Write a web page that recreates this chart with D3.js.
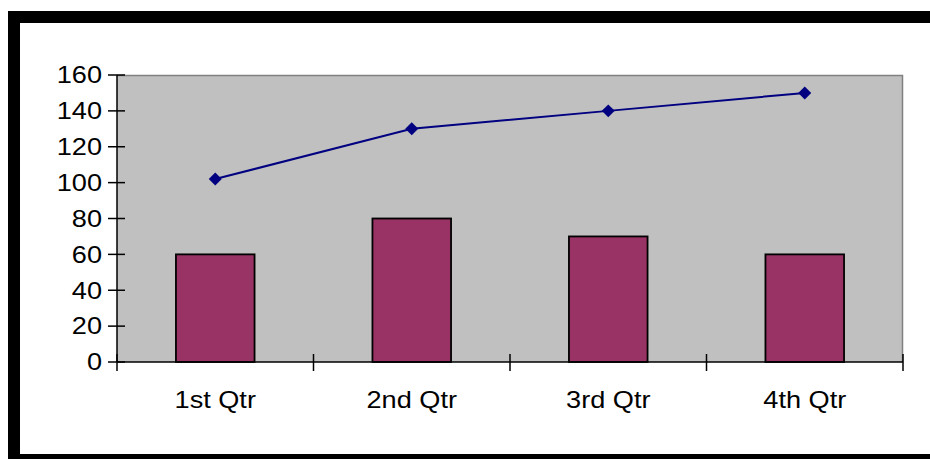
<!DOCTYPE html>
<html>
<head>
<meta charset="utf-8">
<script src="https://cdn.jsdelivr.net/npm/d3@7"></script>
<style>
  html, body { margin: 0; padding: 0; background: #ffffff; }
  svg { display: block; }
  text { font-family: "Liberation Sans", Arial, sans-serif; fill: #000; }
</style>
</head>
<body>
<svg id="chart" width="930" height="459"></svg>
<script>
const categories = ["1st Qtr", "2nd Qtr", "3rd Qtr", "4th Qtr"];
const barValues = [60, 80, 70, 60];
const lineValues = [102, 130, 140, 150];
const yTicks = [0, 20, 40, 60, 80, 100, 120, 140, 160];

const svg = d3.select("#chart");
const plot = { left: 117, right: 903, top: 75, bottom: 362 };
const fontSize = 23;
const stretch = 1.18;

// outer thick frame
svg.append("rect")
  .attr("x", 14).attr("y", 17)
  .attr("width", 940).attr("height", 443)
  .attr("fill", "#ffffff")
  .attr("stroke", "#000").attr("stroke-width", 12);

const xCat = d3.scaleBand().domain(categories).range([plot.left, plot.right]).padding(0);
const xBar = d3.scaleBand().domain(categories).range([plot.left, plot.right])
  .paddingInner(0.6).paddingOuter(0.3);
const y = d3.scaleLinear().domain([0, 160]).range([plot.bottom, plot.top]);

// plot area
svg.append("rect")
  .attr("x", plot.left).attr("y", plot.top)
  .attr("width", plot.right - plot.left).attr("height", plot.bottom - plot.top)
  .attr("fill", "#c0c0c0");
svg.append("path")
  .attr("d", `M${plot.left},${plot.top + 0.5}H${plot.right - 0.5}V${plot.bottom}`)
  .attr("fill", "none").attr("stroke", "#808080").attr("stroke-width", 1.5);

// bars
svg.append("g").selectAll("rect").data(categories).join("rect")
  .attr("x", d => xBar(d))
  .attr("y", (d, i) => y(barValues[i]))
  .attr("width", xBar.bandwidth())
  .attr("height", (d, i) => y(0) - y(barValues[i]))
  .attr("fill", "#993366")
  .attr("stroke", "#000").attr("stroke-width", 1.8);

// y axis
const yAxis = svg.append("g");
yAxis.append("line")
  .attr("x1", plot.left).attr("x2", plot.left)
  .attr("y1", plot.top).attr("y2", plot.bottom)
  .attr("stroke", "#000").attr("stroke-width", 1.5);
yAxis.selectAll("line.tick").data(yTicks).join("line")
  .attr("class", "tick")
  .attr("x1", plot.left - 9).attr("x2", plot.left + 8)
  .attr("y1", d => y(d)).attr("y2", d => y(d))
  .attr("stroke", "#000").attr("stroke-width", 1.5);
yAxis.selectAll("g.lbl").data(yTicks).join("g")
  .attr("class", "lbl")
  .attr("transform", d => `translate(${plot.left - 15},${y(d)}) scale(${stretch},1)`)
  .append("text")
  .attr("text-anchor", "end")
  .attr("dy", "0.36em")
  .style("font-size", fontSize + "px")
  .text(d => d);

// x axis
const xAxis = svg.append("g");
xAxis.append("line")
  .attr("x1", plot.left).attr("x2", plot.right)
  .attr("y1", plot.bottom).attr("y2", plot.bottom)
  .attr("stroke", "#000").attr("stroke-width", 1.5);
const bounds = categories.map(c => xCat(c)).concat([xCat(categories[categories.length - 1]) + xCat.bandwidth()]);
xAxis.selectAll("line.tick").data(bounds).join("line")
  .attr("class", "tick")
  .attr("x1", d => d).attr("x2", d => d)
  .attr("y1", plot.bottom - 8).attr("y2", plot.bottom + 9)
  .attr("stroke", "#000").attr("stroke-width", 1.5);
xAxis.selectAll("g.lbl").data(categories).join("g")
  .attr("class", "lbl")
  .attr("transform", d => `translate(${xCat(d) + xCat.bandwidth() / 2},408) scale(${stretch},1)`)
  .append("text")
  .attr("text-anchor", "middle")
  .style("font-size", fontSize + "px")
  .text(d => d);

// line series
const line = d3.line()
  .x((d, i) => xCat(categories[i]) + xCat.bandwidth() / 2)
  .y(d => y(d));
svg.append("path")
  .datum(lineValues)
  .attr("d", line)
  .attr("fill", "none")
  .attr("stroke", "#000080").attr("stroke-width", 2);
svg.append("g").selectAll("path").data(lineValues).join("path")
  .attr("d", d3.symbol().type(d3.symbolSquare).size(84))
  .attr("transform", (d, i) => `translate(${xCat(categories[i]) + xCat.bandwidth() / 2},${y(d)}) rotate(45)`)
  .attr("fill", "#000080");
</script>
</body>
</html>
